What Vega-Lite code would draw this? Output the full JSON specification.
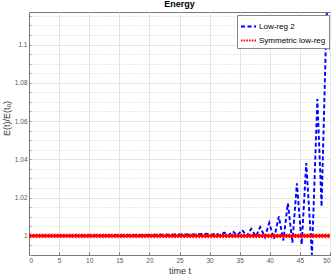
{
  "$schema": "https://vega.github.io/schema/vega-lite/v6.json",
  "autosize": "none",
  "width": 301,
  "height": 243,
  "padding": {"left": 29, "top": 12, "right": 3, "bottom": 22},
  "background": "white",
  "config": {
    "font": "Liberation Sans",
    "view": {"stroke": "#777777", "strokeWidth": 1}
  },
  "title": {"text": "Energy", "fontSize": 9, "fontWeight": "bold", "offset": 3, "color": "#000000", "font": "Liberation Sans"},
  "datasets": {
    "d": [
      {"t": 0, "v": 1.0, "s": "L"},
      {"t": 5, "v": 1.0001, "s": "L"},
      {"t": 10, "v": 1.0002, "s": "L"},
      {"t": 15, "v": 1.0003, "s": "L"},
      {"t": 20, "v": 1.0005, "s": "L"},
      {"t": 25, "v": 1.0007, "s": "L"},
      {"t": 28, "v": 1.0008, "s": "L"},
      {"t": 29.5, "v": 1.0011, "s": "L"},
      {"t": 30.2, "v": 1.0003, "s": "L"},
      {"t": 31.0, "v": 1.0014, "s": "L"},
      {"t": 31.7, "v": 1.0003, "s": "L"},
      {"t": 32.4, "v": 1.0017, "s": "L"},
      {"t": 33.1, "v": 1.0003, "s": "L"},
      {"t": 33.9, "v": 1.0022, "s": "L"},
      {"t": 34.6, "v": 1.0002, "s": "L"},
      {"t": 35.4, "v": 1.003, "s": "L"},
      {"t": 36.2, "v": 1.0, "s": "L"},
      {"t": 36.9, "v": 1.0037, "s": "L"},
      {"t": 37.7, "v": 0.9997, "s": "L"},
      {"t": 38.4, "v": 1.0046, "s": "L"},
      {"t": 39.2, "v": 0.9993, "s": "L"},
      {"t": 39.9, "v": 1.0068, "s": "L"},
      {"t": 40.7, "v": 0.9984, "s": "L"},
      {"t": 41.5, "v": 1.0101, "s": "L"},
      {"t": 42.25, "v": 0.9976, "s": "L"},
      {"t": 43.0, "v": 1.017, "s": "L"},
      {"t": 43.75, "v": 0.9965, "s": "L"},
      {"t": 44.5, "v": 1.0275, "s": "L"},
      {"t": 45.3, "v": 0.9955, "s": "L"},
      {"t": 46.05, "v": 1.038, "s": "L"},
      {"t": 47.0, "v": 0.9901, "s": "L"},
      {"t": 47.9, "v": 1.0715, "s": "L"},
      {"t": 48.6, "v": 1.0153, "s": "L"},
      {"t": 49.45, "v": 1.117, "s": "L"},
      {"t": 50, "v": 1.097, "s": "L"},
      {"t": 0, "v": 1, "s": "S"}, {"t": 0.5, "v": 1, "s": "S"}, {"t": 1, "v": 1, "s": "S"}, {"t": 1.5, "v": 1, "s": "S"},
      {"t": 2, "v": 1, "s": "S"}, {"t": 2.5, "v": 1, "s": "S"}, {"t": 3, "v": 1, "s": "S"}, {"t": 3.5, "v": 1, "s": "S"},
      {"t": 4, "v": 1, "s": "S"}, {"t": 4.5, "v": 1, "s": "S"}, {"t": 5, "v": 1, "s": "S"}, {"t": 5.5, "v": 1, "s": "S"},
      {"t": 6, "v": 1, "s": "S"}, {"t": 6.5, "v": 1, "s": "S"}, {"t": 7, "v": 1, "s": "S"}, {"t": 7.5, "v": 1, "s": "S"},
      {"t": 8, "v": 1, "s": "S"}, {"t": 8.5, "v": 1, "s": "S"}, {"t": 9, "v": 1, "s": "S"}, {"t": 9.5, "v": 1, "s": "S"},
      {"t": 10, "v": 1, "s": "S"}, {"t": 10.5, "v": 1, "s": "S"}, {"t": 11, "v": 1, "s": "S"}, {"t": 11.5, "v": 1, "s": "S"},
      {"t": 12, "v": 1, "s": "S"}, {"t": 12.5, "v": 1, "s": "S"}, {"t": 13, "v": 1, "s": "S"}, {"t": 13.5, "v": 1, "s": "S"},
      {"t": 14, "v": 1, "s": "S"}, {"t": 14.5, "v": 1, "s": "S"}, {"t": 15, "v": 1, "s": "S"}, {"t": 15.5, "v": 1, "s": "S"},
      {"t": 16, "v": 1, "s": "S"}, {"t": 16.5, "v": 1, "s": "S"}, {"t": 17, "v": 1, "s": "S"}, {"t": 17.5, "v": 1, "s": "S"},
      {"t": 18, "v": 1, "s": "S"}, {"t": 18.5, "v": 1, "s": "S"}, {"t": 19, "v": 1, "s": "S"}, {"t": 19.5, "v": 1, "s": "S"},
      {"t": 20, "v": 1, "s": "S"}, {"t": 20.5, "v": 1, "s": "S"}, {"t": 21, "v": 1, "s": "S"}, {"t": 21.5, "v": 1, "s": "S"},
      {"t": 22, "v": 1, "s": "S"}, {"t": 22.5, "v": 1, "s": "S"}, {"t": 23, "v": 1, "s": "S"}, {"t": 23.5, "v": 1, "s": "S"},
      {"t": 24, "v": 1, "s": "S"}, {"t": 24.5, "v": 1, "s": "S"}, {"t": 25, "v": 1, "s": "S"}, {"t": 25.5, "v": 1, "s": "S"},
      {"t": 26, "v": 1, "s": "S"}, {"t": 26.5, "v": 1, "s": "S"}, {"t": 27, "v": 1, "s": "S"}, {"t": 27.5, "v": 1, "s": "S"},
      {"t": 28, "v": 1, "s": "S"}, {"t": 28.5, "v": 1, "s": "S"}, {"t": 29, "v": 1, "s": "S"}, {"t": 29.5, "v": 1, "s": "S"},
      {"t": 30, "v": 1, "s": "S"}, {"t": 30.5, "v": 1, "s": "S"}, {"t": 31, "v": 1, "s": "S"}, {"t": 31.5, "v": 1, "s": "S"},
      {"t": 32, "v": 1, "s": "S"}, {"t": 32.5, "v": 1, "s": "S"}, {"t": 33, "v": 1, "s": "S"}, {"t": 33.5, "v": 1, "s": "S"},
      {"t": 34, "v": 1, "s": "S"}, {"t": 34.5, "v": 1, "s": "S"}, {"t": 35, "v": 1, "s": "S"}, {"t": 35.5, "v": 1, "s": "S"},
      {"t": 36, "v": 1, "s": "S"}, {"t": 36.5, "v": 1, "s": "S"}, {"t": 37, "v": 1, "s": "S"}, {"t": 37.5, "v": 1, "s": "S"},
      {"t": 38, "v": 1, "s": "S"}, {"t": 38.5, "v": 1, "s": "S"}, {"t": 39, "v": 1, "s": "S"}, {"t": 39.5, "v": 1, "s": "S"},
      {"t": 40, "v": 1, "s": "S"}, {"t": 40.5, "v": 1, "s": "S"}, {"t": 41, "v": 1, "s": "S"}, {"t": 41.5, "v": 1, "s": "S"},
      {"t": 42, "v": 1, "s": "S"}, {"t": 42.5, "v": 1, "s": "S"}, {"t": 43, "v": 1, "s": "S"}, {"t": 43.5, "v": 1, "s": "S"},
      {"t": 44, "v": 1, "s": "S"}, {"t": 44.5, "v": 1, "s": "S"}, {"t": 45, "v": 1, "s": "S"}, {"t": 45.5, "v": 1, "s": "S"},
      {"t": 46, "v": 1, "s": "S"}, {"t": 46.5, "v": 1, "s": "S"}, {"t": 47, "v": 1, "s": "S"}, {"t": 47.5, "v": 1, "s": "S"},
      {"t": 48, "v": 1, "s": "S"}, {"t": 48.5, "v": 1, "s": "S"}, {"t": 49, "v": 1, "s": "S"}, {"t": 49.5, "v": 1, "s": "S"},
      {"t": 50, "v": 1, "s": "S"}
    ]
  },
  "data": {"name": "d"},
  "encoding": {
    "x": {
      "field": "t", "type": "quantitative",
      "scale": {"domain": [0, 50], "nice": false, "zero": false},
      "axis": {
        "title": "time t", "titleFontSize": 9, "titleFontWeight": "normal", "titleColor": "#333333", "titlePadding": 3,
        "values": [0, 5, 10, 15, 20, 25, 30, 35, 40, 45, 50],
        "labelFontSize": 6.5, "labelColor": "#555555", "labelPadding": 5,
        "tickSize": -3, "tickColor": "#777777", "domainColor": "#777777",
        "grid": true, "gridColor": "#e4e4e4", "gridWidth": 1
      }
    },
    "y": {
      "field": "v", "type": "quantitative",
      "scale": {"domain": [0.99, 1.117], "nice": false, "zero": false},
      "axis": {
        "title": "E(t)/E(t₀)", "titleFontSize": 9, "titleFontWeight": "normal", "titleColor": "#333333",
        "titleX": -23, "titleY": 106, "titleAlign": "center", "titleBaseline": "middle", "titleAngle": -90,
        "values": [0.99, 0.995, 1, 1.005, 1.01, 1.015, 1.02, 1.025, 1.03, 1.035, 1.04, 1.045, 1.05, 1.055, 1.06, 1.065, 1.07, 1.075, 1.08, 1.085, 1.09, 1.095, 1.1, 1.105, 1.11, 1.115],
        "labelExpr": "abs(datum.value*50-round(datum.value*50))<0.001 ? format(datum.value,'~g') : ''",
        "labelFontSize": 6.5, "labelColor": "#555555", "labelPadding": 4,
        "tickSize": -2, "tickColor": "#999999", "domainColor": "#777777",
        "grid": true,
        "gridColor": {"condition": {"test": "abs(datum.value*50-round(datum.value*50))<0.001", "value": "#e4e4e4"}, "value": "#d0d0d0"},
        "gridDash": {"condition": {"test": "abs(datum.value*50-round(datum.value*50))<0.001", "value": []}, "value": [1, 2]}
      }
    }
  },
  "layer": [
    {
      "mark": {"type": "line", "clip": true, "strokeWidth": 1.9},
      "encoding": {
        "color": {
          "field": "s", "type": "nominal",
          "scale": {"domain": ["L", "S"], "range": ["#0000ff", "#ff0000"]},
          "legend": {
            "title": null, "orient": "none", "legendX": 208, "legendY": 3,
            "labelExpr": "datum.label=='L' ? 'Low-reg 2' : 'Symmetric low-reg'",
            "labelFontSize": 8, "labelColor": "#000000", "labelFont": "Liberation Sans",
            "symbolType": "stroke", "symbolSize": 225, "symbolStrokeWidth": 2,
            "rowPadding": 1, "padding": 3, "fillColor": "white", "strokeColor": "#888888",
            "labelOffset": 2
          }
        },
        "strokeDash": {
          "field": "s", "type": "nominal",
          "scale": {"domain": ["L", "S"], "range": [[4, 2.5], [1.5, 1.2]]},
          "legend": {
            "title": null, "orient": "none", "legendX": 208, "legendY": 3,
            "labelExpr": "datum.label=='L' ? 'Low-reg 2' : 'Symmetric low-reg'",
            "labelFontSize": 8, "labelColor": "#000000", "labelFont": "Liberation Sans",
            "symbolType": "stroke", "symbolSize": 225, "symbolStrokeWidth": 2,
            "rowPadding": 1, "padding": 3, "fillColor": "white", "strokeColor": "#888888",
            "labelOffset": 2
          }
        }
      }
    },
    {
      "transform": [{"filter": "datum.s == 'S'"}],
      "mark": {"type": "point", "shape": "triangle-left", "filled": true, "size": 30, "color": "#ff0000", "opacity": 1, "clip": true}
    }
  ]
}
